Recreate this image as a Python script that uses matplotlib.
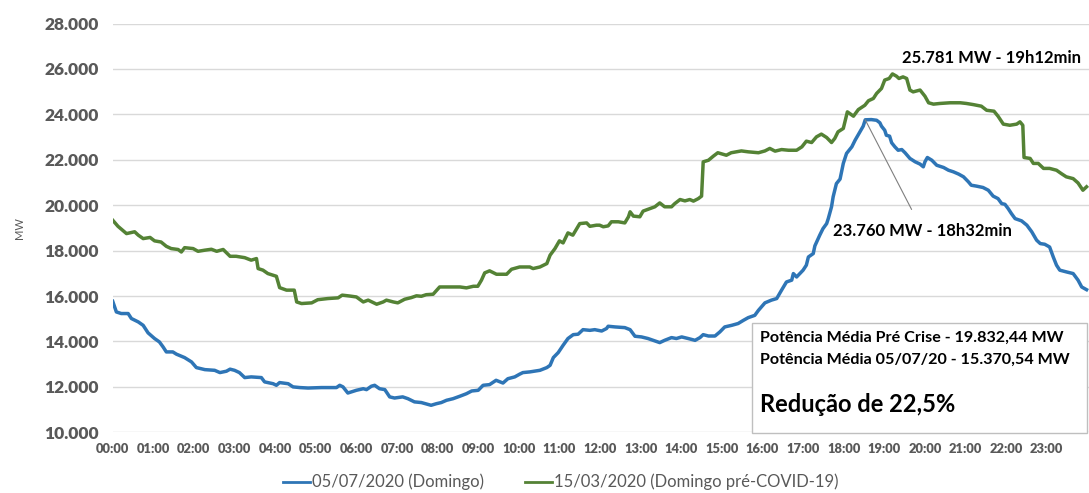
import matplotlib
matplotlib.use('Agg')
import matplotlib.pyplot as plt
from matplotlib.ticker import FuncFormatter

plt.rcParams['font.family'] = ['Lato', 'DejaVu Sans']

# horas (decimal) e potência (MW)
horas_covid = [0, 0.09, 0.21, 0.38, 0.46, 0.63, 0.75, 0.87, 1.03, 1.15, 1.24, 1.32, 1.48, 1.57, 1.77,
               1.94, 2.06, 2.27, 2.51, 2.64, 2.8, 2.89, 3.0, 3.12, 3.25, 3.41, 3.66, 3.74, 3.95, 4.03,
               4.11, 4.32, 4.44, 4.61, 4.81, 5.14, 5.51, 5.59, 5.67, 5.79, 6.0, 6.17, 6.25, 6.37, 6.45,
               6.57, 6.7, 6.82, 6.94, 7.14, 7.27, 7.43, 7.6, 7.84, 7.97, 8.09, 8.22, 8.38, 8.55, 8.71,
               8.84, 9.0, 9.12, 9.28, 9.44, 9.61, 9.73, 9.9, 10.02, 10.1, 10.27, 10.52, 10.69, 10.77,
               10.85, 10.97, 11.09, 11.21, 11.34, 11.46, 11.58, 11.75, 11.87, 12.04, 12.16, 12.2, 12.37,
               12.61, 12.74, 12.86, 13.02, 13.18, 13.31, 13.47, 13.59, 13.76, 13.88, 14.01, 14.17, 14.34,
               14.46, 14.54, 14.67, 14.83, 14.95, 15.07, 15.24, 15.4, 15.53, 15.65, 15.81, 15.9, 16.06,
               16.22, 16.35, 16.47, 16.59, 16.72, 16.76, 16.84, 17.0, 17.08, 17.13, 17.25, 17.29, 17.41,
               17.49, 17.58, 17.62, 17.7, 17.74, 17.82, 17.91, 17.99, 18.07, 18.2, 18.28, 18.4, 18.48,
               18.53, 18.68, 18.81, 18.89, 18.93, 19.01, 19.05, 19.13, 19.18, 19.26, 19.34, 19.43, 19.51,
               19.63, 19.76, 19.88, 19.96, 20.0, 20.06, 20.17, 20.29, 20.46, 20.58, 20.7, 20.83, 20.95,
               21.07, 21.14, 21.27, 21.43, 21.56, 21.68, 21.8, 21.89, 21.97, 22.05, 22.13, 22.22, 22.38,
               22.51, 22.63, 22.75, 22.84, 22.95, 23.07, 23.16, 23.24, 23.32, 23.49, 23.65, 23.77, 23.86,
               23.98]
mw_covid = [15770, 15300, 15230, 15230, 15010, 14860, 14710, 14380, 14130, 13980, 13760, 13540, 13540,
            13440, 13290, 13100, 12850, 12760, 12730, 12630, 12690, 12780, 12730, 12630, 12410, 12440,
            12410, 12220, 12140, 12070, 12190, 12140, 12000, 11970, 11950, 11970, 11970, 12070, 12000,
            11730, 11850, 11920, 11880, 12030, 12070, 11920, 11880, 11560, 11510, 11560, 11480, 11340,
            11310, 11190, 11260, 11310, 11410, 11480, 11590, 11700, 11820, 11850, 12070, 12100, 12290,
            12170, 12360, 12440, 12560, 12630, 12660, 12730, 12850, 12950, 13290, 13510, 13830, 14130,
            14300, 14320, 14520, 14490, 14520, 14460, 14570, 14670, 14640, 14610, 14520, 14230, 14200,
            14130, 14050, 13950, 14050, 14170, 14130, 14200, 14130, 14050, 14170, 14300, 14240, 14240,
            14420, 14640, 14710, 14790, 14930, 15050, 15150, 15370, 15700, 15820, 15890, 16260, 16620,
            16700, 16990, 16840, 17140, 17360, 17720, 17870, 18210, 18680, 18970, 19190, 19410, 19930,
            20370, 20950, 21150, 21840, 22280, 22570, 22860, 23230, 23480, 23760, 23770, 23740, 23630,
            23480, 23300, 23080, 23040, 22750, 22570, 22420, 22450, 22310, 22060, 21910, 21810, 21690,
            21910, 22100, 21980, 21760, 21660, 21540, 21470, 21370, 21250, 21030, 20880, 20840, 20780,
            20660, 20400, 20290, 20070, 20040, 19850, 19630, 19410, 19310, 19120, 18830, 18460, 18310,
            18280, 18160, 17720, 17360, 17140, 17060, 16990, 16700, 16400, 16280]

horas_pre = [0, 0.13, 0.34, 0.54, 0.63, 0.75, 0.92, 1.03, 1.19, 1.32, 1.44, 1.61, 1.69, 1.77, 1.98,
             2.1, 2.27, 2.43, 2.56, 2.72, 2.89, 3.04, 3.25, 3.41, 3.54, 3.58, 3.7, 3.82, 4.03, 4.11,
             4.28, 4.47, 4.53, 4.65, 4.9, 5.05, 5.3, 5.55, 5.65, 5.84, 6.0, 6.17, 6.29, 6.5, 6.66,
             6.74, 6.91, 7.02, 7.19, 7.35, 7.48, 7.6, 7.72, 7.89, 8.05, 8.3, 8.55, 8.71, 8.88, 8.99,
             9.08, 9.16, 9.28, 9.45, 9.7, 9.82, 10.02, 10.27, 10.35, 10.52, 10.69, 10.77, 10.89, 11.0,
             11.09, 11.21, 11.33, 11.5, 11.67, 11.75, 11.91, 11.99, 12.08, 12.2, 12.28, 12.45, 12.61,
             12.7, 12.74, 12.82, 12.98, 13.06, 13.18, 13.35, 13.47, 13.59, 13.76, 13.84, 13.97, 14.09,
             14.21, 14.3, 14.42, 14.5, 14.54, 14.67, 14.79, 14.9, 15.11, 15.23, 15.48, 15.65, 15.9,
             16.06, 16.18, 16.31, 16.47, 16.64, 16.84, 16.97, 17.08, 17.21, 17.33, 17.45, 17.58, 17.7,
             17.78, 17.86, 17.95, 17.99, 18.09, 18.24, 18.36, 18.52, 18.61, 18.73, 18.81, 18.93, 19.01,
             19.12, 19.2, 19.3, 19.36, 19.46, 19.55, 19.63, 19.71, 19.88, 20.0, 20.09, 20.21, 20.37,
             20.62, 20.87, 21.02, 21.19, 21.39, 21.52, 21.7, 21.8, 21.93, 22.09, 22.26, 22.34, 22.41,
             22.44, 22.59, 22.67, 22.79, 22.92, 23.07, 23.24, 23.36, 23.48, 23.65, 23.77, 23.89, 23.98]
mw_pre = [19340, 19070, 18750, 18830, 18680, 18530, 18580, 18430, 18380, 18190, 18090, 18050, 17940,
          18130, 18090, 17970, 18020, 18060, 17970, 18050, 17750, 17750, 17690, 17580, 17650, 17210,
          17140, 16990, 16870, 16370, 16260, 16260, 15740, 15670, 15700, 15840, 15890, 15920, 16040,
          16000, 15960, 15740, 15820, 15640, 15740, 15820, 15740, 15700, 15860, 15930, 16010, 15990,
          16060, 16080, 16400, 16400, 16400, 16360, 16430, 16430, 16700, 17020, 17110, 16960, 16960,
          17180, 17280, 17280, 17210, 17280, 17430, 17800, 18090, 18430, 18340, 18780, 18680, 19190,
          19220, 19070, 19120, 19120, 19050, 19090, 19270, 19270, 19220, 19490, 19710, 19520, 19490,
          19740, 19820, 19930, 20100, 19930, 19930, 20070, 20250, 20190, 20250, 20180, 20290, 20400,
          21910, 21980, 22160, 22310, 22200, 22310, 22390, 22350, 22310, 22390, 22500, 22380, 22450,
          22420, 22420, 22570, 22820, 22760, 23010, 23130, 22980, 22760, 22940, 23230, 23330, 23380,
          24110, 23920, 24210, 24400, 24600, 24700, 24920, 25140, 25510, 25580, 25781, 25680, 25580,
          25650, 25580, 25070, 24990, 25070, 24800, 24510, 24450, 24480, 24510, 24510, 24480, 24430,
          24360, 24180, 24140, 23920, 23570, 23520, 23570, 23670, 23520, 22100, 22060, 21840, 21840,
          21620, 21620, 21540, 21390, 21250, 21170, 20980, 20660, 20810]

rotulos_x = ['%02d:00' % h for h in range(24)]

cinza = '#595959'
azul = '#2E75B6'
verde = '#548235'

fig = plt.figure(figsize=(10.89, 4.93), dpi=100)
ax = fig.add_axes([0.1035, 0.1231, 0.8965, 0.8292])

ax.plot(horas_covid, mw_covid, color=azul, lw=2.5, label='05/07/2020 (Domingo)')
ax.plot(horas_pre, mw_pre, color=verde, lw=2.5, label='15/03/2020 (Domingo pré-COVID-19)')

ax.set_xlim(0, 24.04)
ax.set_ylim(10000, 28000)
ax.set_yticks(range(10000, 28001, 2000))
ax.yaxis.set_major_formatter(FuncFormatter(lambda v, p: f'{int(v):,}'.replace(',', '.')))
ax.set_xticks(range(24))
ax.set_xticklabels(rotulos_x, fontweight='heavy')
ax.grid(axis='y', color='#d9d9d9', lw=1)
ax.set_axisbelow(True)
for s in ax.spines.values():
    s.set_visible(False)
ax.tick_params(axis='y', length=0, pad=10, labelsize=12.5, labelcolor=cinza)
ax.tick_params(axis='x', length=0, pad=8, labelsize=9.3, labelcolor=cinza)
for t in ax.get_yticklabels():
    t.set_fontweight('heavy')
ax.set_ylabel('MW', fontsize=8, color=cinza, labelpad=14)

# picos
ax.text(21.65, 26500, '25.781 MW - 19h12min', fontsize=12, fontweight='bold', ha='center', va='center')
ax.annotate('23.760 MW - 18h32min', xy=(18.53, 23760), xytext=(19.95, 18850),
            fontsize=12, fontweight='bold', ha='center', va='center',
            arrowprops=dict(arrowstyle='-', color='#7f7f7f', lw=0.8, shrinkA=9, shrinkB=0))

# caixa com médias
caixa = plt.Rectangle((752 / 1089, 1 - 433 / 493), 335 / 1089, 110 / 493, transform=fig.transFigure,
                      facecolor='white', edgecolor='#bfbfbf', lw=1, zorder=5)
fig.add_artist(caixa)
fig.text(760 / 1089, 1 - 338 / 493, 'Potência Média Pré Crise - 19.832,44 MW', fontsize=11.6,
         fontweight='bold', va='center', zorder=6)
fig.text(760 / 1089, 1 - 360 / 493, 'Potência Média 05/07/20 - 15.370,54 MW', fontsize=11.6,
         fontweight='bold', va='center', zorder=6)
fig.text(760 / 1089, 1 - 405 / 493, 'Redução de 22,5%', fontsize=17, fontweight='bold',
         va='center', zorder=6)

leg = fig.legend(loc='center', bbox_to_anchor=(0.515, 0.022), ncol=2, frameon=False, fontsize=12,
                 handlelength=1.6, handletextpad=0.1, columnspacing=2.5, labelcolor=cinza)
for linha in leg.get_lines():
    linha.set_linewidth(2)

fig.savefig('out.png', dpi=100)
